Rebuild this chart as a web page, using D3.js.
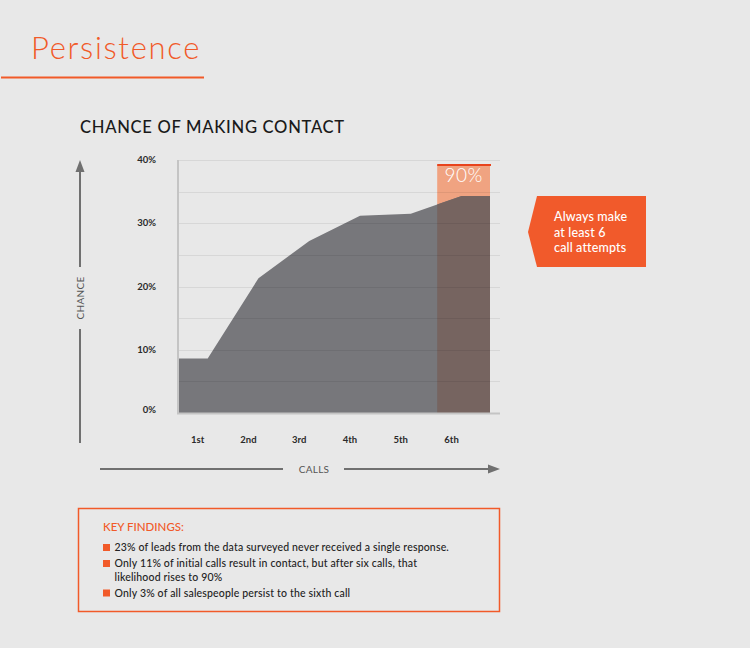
<!DOCTYPE html>
<html><head><meta charset="utf-8">
<script src="https://cdn.jsdelivr.net/npm/d3@7"></script>
<style>
html,body{margin:0;padding:0;background:#e8e8e8;}
svg{display:block;font-family:Lato,"Open Sans",sans-serif;}
</style></head><body>
<svg id="c" width="750" height="648"></svg>
<script>
const callLabels = ["1st","2nd","3rd","4th","5th","6th"];
const callValues = [8.6, 21.3, 27.2, 31.2, 31.5, 34.3];
const yTicks = [0, 10, 20, 30, 40];
const gridTicks = [0, 5, 10, 15, 20, 25, 30, 35, 40];
const highlightLabel = "90%";
const calloutLines = ["Always make", "at least 6", "call attempts"];
const findings = [
  ["23% of leads from the data surveyed never received a single response."],
  ["Only 11% of initial calls result in contact, but after six calls, that", "likelihood rises to 90%"],
  ["Only 3% of all salespeople persist to the sixth call"]
];

const orange = "#f15a29";
const svg = d3.select("#c");

// Header
svg.append("text").attr("x", 31).attr("y", 59).attr("fill", orange)
  .attr("font-size", 31).attr("font-weight", 300).attr("letter-spacing", 1.7).text("Persistence");
svg.append("line").attr("x1", 1).attr("x2", 204).attr("y1", 77.5).attr("y2", 77.5)
  .attr("stroke", orange).attr("stroke-width", 2);

svg.append("text").attr("x", 80).attr("y", 133).attr("fill", "#1a1a1a")
  .attr("font-size", 16.6).attr("font-weight", 500).attr("letter-spacing", 0.7).text("CHANCE OF MAKING CONTACT");

// Scales
const x = d3.scaleLinear().domain([0.415, 6.56]).range([178, 490]);
const y = d3.scaleLinear().domain([0, 40]).range([413, 160]);
const gridRight = 500;

const areaData = [{c: x.domain()[0], v: callValues[0]}]
  .concat(callValues.map((v, i) => ({c: i + 1, v})))
  .concat([{c: x.domain()[1], v: callValues[callValues.length - 1]}]);

const area = d3.area().x(d => x(d.c)).y0(y(0)).y1(d => y(d.v));

// Highlight column
const hx0 = x(5.52), hx1 = x.range()[1];
svg.append("rect").attr("x", hx0).attr("y", y(39.2)).attr("width", hx1 - hx0)
  .attr("height", y(0) - y(39.2)).attr("fill", "#f0a381");

svg.append("defs").append("clipPath").attr("id", "hc").append("rect")
  .attr("x", hx0).attr("y", 0).attr("width", hx1 - hx0).attr("height", 648);

svg.append("path").datum(areaData).attr("d", area).attr("fill", "#77777b");
svg.append("path").datum(areaData).attr("d", area).attr("fill", "#766460").attr("clip-path", "url(#hc)");

// Gridlines
svg.append("g").selectAll("line").data(gridTicks.filter(t => t > 0)).join("line")
  .attr("x1", x.range()[0]).attr("x2", gridRight)
  .attr("y1", d => Math.round(y(d)) + 0.5).attr("y2", d => Math.round(y(d)) + 0.5)
  .attr("stroke", "#000").attr("stroke-opacity", 0.07);

// Top red line
svg.append("line").attr("x1", hx0).attr("x2", hx1 + 1).attr("y1", y(39.2)).attr("y2", y(39.2))
  .attr("stroke", "#e8431c").attr("stroke-width", 2);

svg.append("text").attr("x", (hx0 + hx1) / 2).attr("y", 182).attr("text-anchor", "middle")
  .attr("fill", "#fff").attr("font-size", 19).attr("font-weight", 300).attr("letter-spacing", 0.5).text(highlightLabel);

// Axes lines
svg.append("line").attr("x1", 178).attr("x2", 178).attr("y1", y(40)).attr("y2", y(0) + 1)
  .attr("stroke", "#c4c4c4").attr("stroke-width", 2);
svg.append("line").attr("x1", 177).attr("x2", gridRight).attr("y1", y(0) + 0.5).attr("y2", y(0) + 0.5)
  .attr("stroke", "#c4c4c4").attr("stroke-width", 2);

// Y tick labels
svg.append("g").selectAll("text").data(yTicks).join("text")
  .attr("x", 156).attr("y", d => y(d) - (d === 0 ? 3 : 0)).attr("dy", "0.32em")
  .attr("text-anchor", "end").attr("font-size", 9.5).attr("font-weight", 700).attr("fill", "#2a2a2a")
  .text(d => d + "%");

// X tick labels
svg.append("g").selectAll("text").data(callLabels).join("text")
  .attr("x", (d, i) => x(i + 1) - 10).attr("y", 443).attr("text-anchor", "middle")
  .attr("font-size", 9.5).attr("font-weight", 700).attr("fill", "#2a2a2a").text(d => d);

// Axis arrows
const arrowCol = "#707070";
svg.append("line").attr("x1", 80).attr("x2", 80).attr("y1", 168).attr("y2", 267)
  .attr("stroke", arrowCol).attr("stroke-width", 2);
svg.append("path").attr("d", "M80,160 L75.5,172 L84.5,172 Z").attr("fill", arrowCol);
svg.append("line").attr("x1", 80).attr("x2", 80).attr("y1", 329).attr("y2", 443)
  .attr("stroke", arrowCol).attr("stroke-width", 2);
svg.append("text").attr("transform", "translate(84,298) rotate(-90)").attr("text-anchor", "middle")
  .attr("font-size", 10).attr("fill", "#555").attr("letter-spacing", 0.3).text("CHANCE");

svg.append("line").attr("x1", 100).attr("x2", 283).attr("y1", 469).attr("y2", 469)
  .attr("stroke", arrowCol).attr("stroke-width", 2);
svg.append("line").attr("x1", 344).attr("x2", 492).attr("y1", 469).attr("y2", 469)
  .attr("stroke", arrowCol).attr("stroke-width", 2);
svg.append("path").attr("d", "M500,469 L488,464.5 L488,473.5 Z").attr("fill", arrowCol);
svg.append("text").attr("x", 314).attr("y", 472.5).attr("text-anchor", "middle")
  .attr("font-size", 10).attr("fill", "#555").attr("letter-spacing", 0.3).text("CALLS");

// Callout
svg.append("path").attr("d", "M537,196 L646,196 L646,267 L537,267 L528,232 Z").attr("fill", "#f15a2b");
svg.append("g").selectAll("text").data(calloutLines).join("text")
  .attr("x", 554).attr("y", (d, i) => 221 + i * 15.5).attr("fill", "#fff")
  .attr("font-size", 12.5).attr("font-weight", 500).attr("letter-spacing", 0.15).text(d => d);

// Key findings box
svg.append("rect").attr("x", 78.5).attr("y", 508.5).attr("width", 421).attr("height", 103)
  .attr("fill", "none").attr("stroke", orange).attr("stroke-width", 1.5);
svg.append("text").attr("x", 103).attr("y", 530.5).attr("fill", orange)
  .attr("font-size", 11.5).attr("font-weight", 500).text("KEY FINDINGS:");

let yy = 551;
findings.forEach(lines => {
  svg.append("rect").attr("x", 103).attr("y", yy - 7).attr("width", 7).attr("height", 7).attr("fill", orange);
  lines.forEach((ln, j) => {
    svg.append("text").attr("x", 114.5).attr("y", yy + j * 13.5).attr("fill", "#222")
      .attr("font-size", 10.5).attr("font-weight", 500).attr("letter-spacing", 0.17).text(ln);
  });
  yy += (lines.length - 1) * 13.5 + 16;
});
</script>
</body></html>
